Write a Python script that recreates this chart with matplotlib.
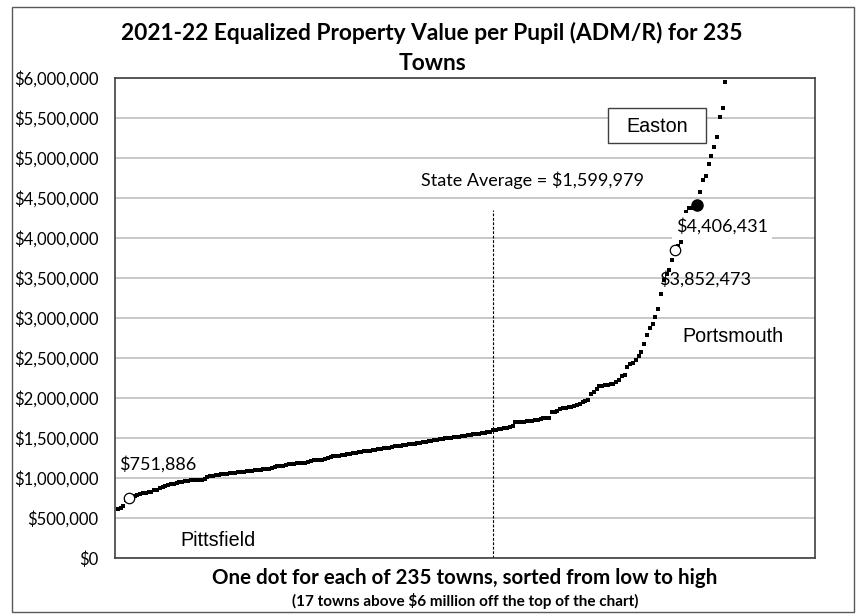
import matplotlib
matplotlib.use("Agg")
from matplotlib import pyplot as plt
from matplotlib.patches import Rectangle
from matplotlib.ticker import FuncFormatter

# Valor por alumno de cada pueblo, ordenado de menor a mayor (218 visibles)
valores_visibles = [
    615000, 630000, 655000, 720000, 751886, 765000, 770000, 785000, 800000, 810000,
    815000, 820000, 830000, 845000, 855000, 870000, 890000, 900000, 910000, 920000,
    930000, 940000, 945000, 950000, 960000, 965000, 970000, 972000, 975000, 978000,
    980000, 990000, 1010000, 1025000, 1030000, 1035000, 1040000, 1045000, 1050000, 1053000,
    1058000, 1062000, 1066000, 1070000, 1075000, 1080000, 1085000, 1090000, 1093000, 1097000,
    1100000, 1105000, 1110000, 1110000, 1112000, 1125000, 1140000, 1145000, 1150000, 1155000,
    1160000, 1170000, 1175000, 1180000, 1190000, 1190000, 1190000, 1192000, 1200000, 1215000,
    1220000, 1222000, 1225000, 1230000, 1235000, 1245000, 1260000, 1270000, 1273000, 1278000,
    1282000, 1288000, 1295000, 1300000, 1310000, 1318000, 1322000, 1327000, 1332000, 1337000,
    1342000, 1347000, 1352000, 1358000, 1364000, 1370000, 1375000, 1381000, 1388000, 1395000,
    1400000, 1406000, 1410000, 1414000, 1419000, 1424000, 1430000, 1435000, 1440000, 1445000,
    1450000, 1457000, 1465000, 1472000, 1480000, 1485000, 1490000, 1496000, 1500000, 1503000,
    1507000, 1511000, 1516000, 1520000, 1526000, 1532000, 1538000, 1545000, 1550000, 1555000,
    1560000, 1565000, 1570000, 1580000, 1595000, 1605000, 1610000, 1612000, 1620000, 1630000,
    1640000, 1650000, 1700000, 1700000, 1700000, 1705000, 1708000, 1710000, 1715000, 1720000,
    1730000, 1740000, 1745000, 1750000, 1755000, 1820000, 1825000, 1840000, 1865000, 1875000,
    1880000, 1885000, 1890000, 1895000, 1910000, 1925000, 1945000, 1960000, 1980000, 2050000,
    2080000, 2110000, 2150000, 2155000, 2160000, 2165000, 2170000, 2175000, 2200000, 2230000,
    2270000, 2290000, 2390000, 2420000, 2440000, 2470000, 2530000, 2580000, 2680000, 2790000,
    2870000, 2930000, 3010000, 3110000, 3300000, 3470000, 3550000, 3600000, 3720000, 3852473,
    3900000, 3950000, 4150000, 4330000, 4370000, 4380000, 4400000, 4406431, 4570000, 4730000,
    4780000, 4930000, 5030000, 5140000, 5260000, 5510000, 5630000, 5950000,
]
# 17 pueblos por encima de $6 millones (fuera del grafico)
valores_arriba = [
    6100000, 6300000, 6500000, 6800000, 7000000, 7300000, 7600000, 8000000, 8500000,
    9000000, 9800000, 10500000, 11500000, 13000000, 15000000, 18000000, 25000000,
]
valores = valores_visibles + valores_arriba
rangos = list(range(1, len(valores) + 1))

# Pueblos destacados
pueblos = ["Pittsfield", "Portsmouth", "Easton"]
rango_pueblo = [5, 200, 208]
promedio_estatal = 1599979
rango_promedio = 135

titulo = "2021-22 Equalized Property Value per Pupil (ADM/R) for 235\nTowns"
eje_x_1 = "One dot for each of 235 towns, sorted from low to high"
eje_x_2 = "(17 towns above $6 million off the top of the chart)"

calibri = "Lato"
arial = "Liberation Sans"

fig = plt.figure(figsize=(8.63, 6.16), dpi=100)
ax = fig.add_axes([115 / 863, 1 - 558 / 616, 700 / 863, 480 / 616])

# marco exterior
fig.patches.append(Rectangle((12 / 863, 1 - 612 / 616), 842 / 863, 605 / 616,
                             transform=fig.transFigure, fill=False,
                             edgecolor="#595959", linewidth=1.0))

ax.plot(rangos, valores, "s", color="black", markersize=2.4, markeredgewidth=0, zorder=3)

# circulos para Pittsfield, Portsmouth y Easton
ax.plot(rango_pueblo[0], valores[rango_pueblo[0] - 1], "o", markersize=7.5,
        markerfacecolor="white", markeredgecolor="black", markeredgewidth=0.9, zorder=4)
ax.plot(rango_pueblo[1], valores[rango_pueblo[1] - 1], "o", markersize=7.5,
        markerfacecolor="white", markeredgecolor="black", markeredgewidth=0.9, zorder=4)
ax.plot(rango_pueblo[2], valores[rango_pueblo[2] - 1], "o", markersize=8,
        color="black", zorder=4)

# linea del promedio estatal
ax.plot([rango_promedio, rango_promedio], [0, 4350000], color="black",
        linewidth=0.8, linestyle=(0, (2.5, 1.5)), zorder=2)

ax.set_xlim(0, 250)
ax.set_ylim(0, 6000000)
ax.set_yticks(range(0, 6000001, 500000))
ax.yaxis.set_major_formatter(FuncFormatter(lambda v, p: "${:,.0f}".format(v)))
ax.set_xticks([])
ax.tick_params(axis="y", length=0, pad=12)
for t in ax.get_yticklabels():
    t.set_fontfamily(calibri)
    t.set_fontsize(12)
ax.grid(axis="y", color="#bfbfbf", linewidth=1.2, zorder=0)
ax.set_axisbelow(True)
for s in ax.spines.values():
    s.set_color("#404040")
    s.set_linewidth(1.2)

# textos
def px(x, y):
    return (x - 115) / 2.8, (558 - y) * 12500

ax.text(*px(119, 464), "${:,}".format(valores[rango_pueblo[0] - 1]), fontfamily=calibri,
        fontsize=13, ha="left", va="center")
ax.text(*px(180, 540), pueblos[0], fontfamily=arial, fontsize=14.2, ha="left", va="center")
ax.text(*px(532, 180), "State Average = ${:,}".format(promedio_estatal), fontfamily=calibri,
        fontsize=13, ha="center", va="center")

x0, y0 = px(608, 143)
x1, y1 = px(706, 108)
ax.add_patch(Rectangle((x0, y0), x1 - x0, y1 - y0, facecolor="white",
                       edgecolor="#404040", linewidth=1.0, zorder=5))
ax.text(*px(657, 126), pueblos[2], fontfamily=arial, fontsize=14.2, ha="center",
        va="center", zorder=6)

ax.text(*px(676, 226), "${:,}".format(valores[rango_pueblo[2] - 1]), fontfamily=calibri,
        fontsize=13, ha="left", va="center", zorder=6,
        bbox=dict(facecolor="white", edgecolor="none", pad=3))
ax.text(*px(659, 279), "${:,}".format(valores[rango_pueblo[1] - 1]), fontfamily=calibri,
        fontsize=13, ha="left", va="center", zorder=6)
ax.text(*px(682, 336), pueblos[1], fontfamily=arial, fontsize=14.2, ha="left", va="center")

fig.text(432 / 863, 1 - 48 / 616, titulo, fontfamily=calibri, fontweight="bold",
         fontsize=16.4, ha="center", va="center", linespacing=1.58)
fig.text(465 / 863, 1 - 578 / 616, eje_x_1, fontfamily=calibri, fontweight="bold",
         fontsize=14.8, ha="center", va="center")
fig.text(465 / 863, 1 - 601 / 616, eje_x_2, fontfamily=calibri, fontweight="bold",
         fontsize=11, ha="center", va="center")

fig.savefig("out.png", dpi=100)
